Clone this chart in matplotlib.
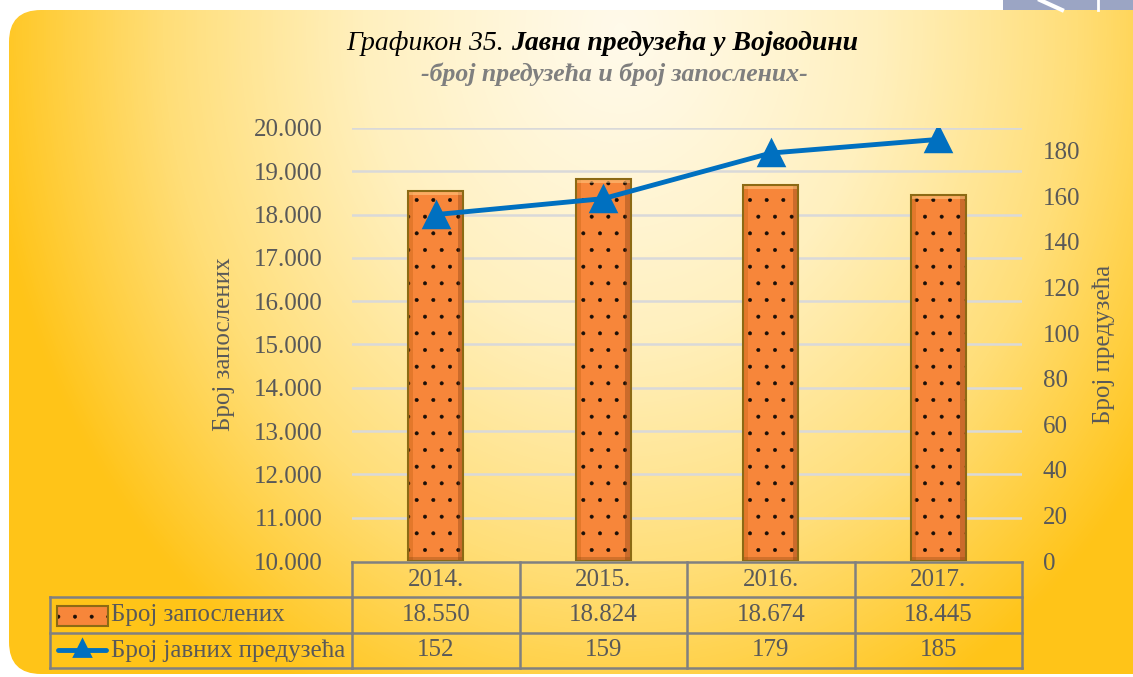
import matplotlib.pyplot as plt
import numpy as np
from matplotlib.patches import FancyBboxPatch, Rectangle, Polygon
from matplotlib.lines import Line2D
import matplotlib.transforms as mtransforms
from matplotlib.colors import LinearSegmentedColormap

plt.rcParams['font.family'] = ['Liberation Serif', 'DejaVu Serif']
plt.rcParams['hatch.linewidth'] = 0.4

years = ['2014.', '2015.', '2016.', '2017.']
zaposleni = [18550, 18824, 18674, 18445]
preduzeca = [152, 159, 179, 185]
zaposleni_lbl = ['18.550', '18.824', '18.674', '18.445']
left_ticks = list(range(10000, 20001, 1000))
right_ticks = list(range(0, 181, 20))

W, H = 1133, 677
txt_gray = '#595959'
bar_col = '#F7863A'
bar_edge = '#8C6A14'
dot_col = '#1a0f08'
line_col = '#0070C0'
grid_col = '#D9D9D9'
tbl_col = '#808080'

fig = plt.figure(figsize=(W / 100, H / 100), dpi=100)

# background panel with soft gradient and rounded corners
bg = fig.add_axes([0, 0, 1, 1])
bg.set_xlim(0, W)
bg.set_ylim(H, 0)
bg.axis('off')
xx, yy = np.meshgrid(np.arange(W), np.arange(H))
t = np.sqrt(((xx - 620) / 640.0) ** 2 + ((yy - 30) / 760.0) ** 2)
t = np.clip(t, 0, 1) ** 1.2
cmap = LinearSegmentedColormap.from_list('bg', ['#FFFAEA', '#FFF0BE', '#FFDE78', '#FFC418'])
im = bg.imshow(t, cmap=cmap, extent=(0, W, H, 0), vmin=0, vmax=1, zorder=0)
panel = FancyBboxPatch((9, 10), W + 60, H - 13, boxstyle='round,pad=0,rounding_size=32',
                       facecolor='none', edgecolor='none', transform=bg.transData)
bg.add_patch(panel)
im.set_clip_path(panel)
# corner of the logo peeking above the panel
bg.add_patch(Polygon([[1003, 0], [1133, 0], [1133, 10], [1003, 10]], closed=True,
                     facecolor='#9BA5C4', edgecolor='none', zorder=1))
bg.plot([1040, 1062], [0, 10], color='white', lw=3, zorder=2)
bg.plot([1098, 1098], [0, 10], color='white', lw=2, zorder=2)

fig.text(511 / W, 1 - 43 / H, 'Графикон 35. ', ha='right', va='center', fontsize=20,
         style='italic', color='black')
fig.text(511 / W, 1 - 43 / H, 'Јавна предузећа у Војводини', ha='left', va='center',
         fontsize=20, style='italic', weight='bold', color='black')
fig.text(614 / W, 1 - 74 / H, '-број предузећа и број запослених-', ha='center', va='center',
         fontsize=18.5, style='italic', weight='bold', color='#7F7F7F')

# main plot area
ax = fig.add_axes([352 / W, 1 - 561 / H, 670 / W, 433 / H])
ax.patch.set_alpha(0)
x = np.arange(len(years))
ax.set_xlim(-0.5, 3.5)
ax.set_ylim(10000, 20000)
ax.set_yticks(left_ticks)
ax.set_yticklabels([f'{v // 1000}.000' for v in left_ticks])
ax.tick_params(axis='y', length=0, pad=21, labelsize=18, labelcolor=txt_gray)
ax.set_xticks([])
for s in ax.spines.values():
    s.set_visible(False)
for v in left_ticks[1:]:
    ax.axhline(v, color=grid_col, lw=1.8, zorder=1)
ax.set_ylabel('Број запослених', fontsize=18, color=txt_gray, labelpad=14)

bw = 0.33
heights = [v - 10000 for v in zaposleni]
# dotted fill first (hatch takes the edge colour), outline on top
ax.bar(x, heights, bottom=10000, width=bw, color=bar_col, edgecolor=dot_col,
       linewidth=0, hatch='.', zorder=2)
# bevel shading on bar sides
for xi, v in zip(x, zaposleni):
    ax.add_patch(Rectangle((xi + bw / 2 - 0.035, 10000), 0.035, v - 10000,
                           facecolor='#7A3A10', alpha=0.35, edgecolor='none', zorder=3))
    ax.add_patch(Rectangle((xi - bw / 2, 10000), 0.03, v - 10000,
                           facecolor='#C0600F', alpha=0.35, edgecolor='none', zorder=3))
    ax.add_patch(Rectangle((xi - bw / 2, v - 90), bw, 90,
                           facecolor='#FFD08A', alpha=0.5, edgecolor='none', zorder=3))
    ax.add_patch(Rectangle((xi - bw / 2, 10000), bw, 90,
                           facecolor='#8A4A10', alpha=0.35, edgecolor='none', zorder=3))
ax.bar(x, heights, bottom=10000, width=bw, facecolor='none', edgecolor=bar_edge,
       linewidth=1.5, zorder=4)

ax2 = ax.twinx()
ax2.set_ylim(0, 190)
ax2.set_yticks(right_ticks)
ax2.tick_params(axis='y', length=0, pad=15, labelsize=18, labelcolor=txt_gray)
for s in ax2.spines.values():
    s.set_visible(False)
ax2.plot(x, preduzeca, color=line_col, lw=3.5, marker='^', markersize=17,
         markeredgewidth=2.5, markeredgecolor=line_col, solid_capstyle='round', zorder=5)
ax2.set_ylabel('Број предузећа', fontsize=18, color=txt_gray, labelpad=9)

# data table below the plot
ov = fig.add_axes([0, 0, 1, 1], zorder=10)
ov.set_xlim(0, W)
ov.set_ylim(H, 0)
ov.axis('off')
tr = mtransforms.blended_transform_factory(ax.transData, ov.transData)
y0, y1, y2, y3 = 562, 597, 633, 668
tl = dict(color=tbl_col, lw=1.8, solid_capstyle='projecting')
ov.add_line(Line2D([-0.5, 3.5], [y0, y0], transform=tr, **tl))
for yv in (y1, y2, y3):
    ov.plot([50, 352], [yv, yv], **tl)
    ov.add_line(Line2D([-0.5, 3.5], [yv, yv], transform=tr, **tl))
ov.plot([50, 50], [y1, y3], **tl)
for xe in np.arange(-0.5, 4.0, 1.0):
    ov.add_line(Line2D([xe, xe], [y0, y3], transform=tr, **tl))
for i in range(len(years)):
    ov.text(i, (y0 + y1) / 2, years[i], transform=tr, ha='center', va='center',
            fontsize=18, color=txt_gray)
    ov.text(i, (y1 + y2) / 2, zaposleni_lbl[i], transform=tr, ha='center', va='center',
            fontsize=18, color=txt_gray)
    ov.text(i, (y2 + y3) / 2, str(preduzeca[i]), transform=tr, ha='center', va='center',
            fontsize=18, color=txt_gray)

# legend keys inside the table
ov.add_patch(Rectangle((57, 606), 51, 20, facecolor=bar_col, edgecolor=dot_col, lw=0,
                       hatch='.'))
ov.add_patch(Rectangle((57, 606), 51, 20, facecolor='none', edgecolor=bar_edge, lw=1.5))
ov.plot([58, 106], [650, 650], color=line_col, lw=3.5, solid_capstyle='round')
ov.plot([82], [648], marker='^', markersize=12, color=line_col, markeredgewidth=2)
ov.text(111, (y1 + y2) / 2, 'Број запослених', ha='left', va='center', fontsize=18,
        color=txt_gray)
ov.text(111, (y2 + y3) / 2, 'Број јавних предузећа', ha='left', va='center', fontsize=18,
        color=txt_gray)

fig.savefig('out.png', dpi=100)
